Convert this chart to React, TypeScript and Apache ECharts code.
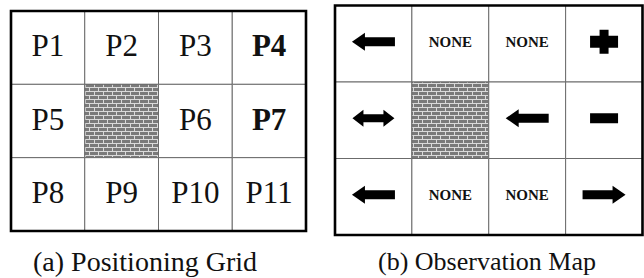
import React, { useEffect, useRef } from "react";
import * as echarts from "echarts";

const columns = ["C1", "C2", "C3", "C4"];
const rows = ["R1", "R2", "R3"];
const positionLabels = ["P1", "P2", "P3", "P4", "P5", "", "P6", "P7", "P8", "P9", "P10", "P11"];
const boldPositions = ["P4", "P7"];
const obstacleCells = [5];
const observations = ["left", "NONE", "NONE", "plus", "both", "", "left", "minus", "left", "NONE", "NONE", "right"];
const captions = ["(a) Positioning Grid", "(b) Observation Map"];

const SERIF = "Liberation Serif";

function makeBrick(): HTMLCanvasElement {
  const c = document.createElement("canvas");
  c.width = 9;
  c.height = 8;
  const g = c.getContext("2d")!;
  g.fillStyle = "#dadada";
  g.fillRect(0, 0, 9, 8);
  g.fillStyle = "#7a7a7a";
  g.fillRect(0, 0, 8, 3);
  g.fillRect(0, 4, 4, 3);
  g.fillRect(5, 4, 4, 3);
  return c;
}

function cellItems() {
  const items: number[][] = [];
  rows.forEach((_, r) => columns.forEach((__, c) => items.push([c, r, r * columns.length + c])));
  return items;
}

function arrowPoints(cx: number, cy: number, dir: number) {
  const L = 43, hl = 13, hh = 18, sh = 9;
  const pts = [
    [-L / 2, 0],
    [-L / 2 + hl, -hh / 2],
    [-L / 2 + hl, -sh / 2],
    [L / 2, -sh / 2],
    [L / 2, sh / 2],
    [-L / 2 + hl, sh / 2],
    [-L / 2 + hl, hh / 2],
  ];
  return pts.map((p) => [cx + dir * p[0], cy + p[1]]);
}

function bothPoints(cx: number, cy: number) {
  const L = 42, hl = 11, hh = 17, sh = 8;
  return [
    [cx - L / 2, cy],
    [cx - L / 2 + hl, cy - hh / 2],
    [cx - L / 2 + hl, cy - sh / 2],
    [cx + L / 2 - hl, cy - sh / 2],
    [cx + L / 2 - hl, cy - hh / 2],
    [cx + L / 2, cy],
    [cx + L / 2 - hl, cy + hh / 2],
    [cx + L / 2 - hl, cy + sh / 2],
    [cx - L / 2 + hl, cy + sh / 2],
    [cx - L / 2 + hl, cy + hh / 2],
  ];
}

export default function App() {
  const ref = useRef<HTMLDivElement>(null);
  useEffect(() => {
    if (!ref.current) return;
    const chart = echarts.init(ref.current, undefined, { renderer: "svg" });
    const brick = makeBrick();
    const pattern: any = { image: brick, repeat: "repeat", imageWidth: 9, imageHeight: 8 };

    const cellRect = (api: any) => {
      const c = api.coord([api.value(0), api.value(1)]);
      const s = api.size([1, 1]);
      return { c, s, x: c[0] - s[0] / 2, y: c[1] - s[1] / 2 };
    };

    const baseRect = (idx: number, x: number, y: number, s: number[]) => ({
      type: "rect",
      shape: { x, y, width: s[0], height: s[1] },
      style: {
        fill: obstacleCells.includes(idx) ? pattern : "#ffffff",
        stroke: "#6b6b6b",
        lineWidth: 1,
      },
    });

    const renderPositions = (params: any, api: any) => {
      const idx = api.value(2);
      const { c, s, x, y } = cellRect(api);
      const label = positionLabels[idx];
      const children: any[] = [baseRect(idx, x, y, s)];
      if (label) {
        children.push({
          type: "text",
          style: {
            text: label,
            x: c[0],
            y: c[1] - 2,
            align: "center",
            verticalAlign: "middle",
            fontSize: 31,
            fontFamily: SERIF,
            fontWeight: boldPositions.includes(label) ? "bold" : "normal",
            fill: "#111",
          },
        });
      }
      return { type: "group", children };
    };

    const renderObservations = (params: any, api: any) => {
      const idx = api.value(2);
      const { c, s, x, y } = cellRect(api);
      const obs = observations[idx];
      const children: any[] = [baseRect(idx, x, y, s)];
      const cx = c[0];
      const cy = c[1] - 2;
      const fill = "#000";
      if (obs === "NONE") {
        children.push({
          type: "text",
          style: {
            text: obs,
            x: cx,
            y: cy,
            align: "center",
            verticalAlign: "middle",
            fontSize: 15,
            fontFamily: SERIF,
            fontWeight: "bold",
            fill: "#111",
          },
        });
      } else if (obs === "left" || obs === "right") {
        children.push({
          type: "polygon",
          shape: { points: arrowPoints(cx, cy, obs === "left" ? 1 : -1) },
          style: { fill },
        });
      } else if (obs === "both") {
        children.push({ type: "polygon", shape: { points: bothPoints(cx, cy) }, style: { fill } });
      } else if (obs === "plus") {
        children.push({
          type: "rect",
          shape: { x: cx - 14, y: cy - 6, width: 28, height: 12 },
          style: { fill },
        });
        children.push({
          type: "rect",
          shape: { x: cx - 4.5, y: cy - 12, width: 9, height: 24 },
          style: { fill },
        });
      } else if (obs === "minus") {
        children.push({
          type: "rect",
          shape: { x: cx - 14, y: cy - 5, width: 28, height: 10 },
          style: { fill },
        });
      }
      return { type: "group", children };
    };

    const renderFrame = (params: any) => {
      const cs = params.coordSys;
      return {
        type: "rect",
        shape: { x: cs.x, y: cs.y, width: cs.width, height: cs.height },
        style: { fill: "transparent", stroke: "#000", lineWidth: 2.6 },
      };
    };

    const items = cellItems();

    chart.setOption({
      animation: false,
      backgroundColor: "#ffffff",
      grid: [
        { left: 11, top: 11, width: 295, height: 220 },
        { left: 335, top: 5.5, width: 307.5, height: 229.5 },
      ],
      xAxis: [0, 1].map((g) => ({ type: "category", data: columns, gridIndex: g, show: false })),
      yAxis: [0, 1].map((g) => ({ type: "category", data: rows, gridIndex: g, show: false, inverse: true })),
      series: [
        { type: "custom", xAxisIndex: 0, yAxisIndex: 0, data: items, renderItem: renderPositions, silent: true },
        { type: "custom", xAxisIndex: 1, yAxisIndex: 1, data: items, renderItem: renderObservations, silent: true },
        { type: "custom", xAxisIndex: 0, yAxisIndex: 0, data: [[0, 0]], renderItem: renderFrame, z: 10, silent: true },
        { type: "custom", xAxisIndex: 1, yAxisIndex: 1, data: [[0, 0]], renderItem: renderFrame, z: 10, silent: true },
      ],
      graphic: [
        {
          type: "text",
          x: 145,
          y: 261,
          style: { text: captions[0], align: "center", verticalAlign: "middle", fontSize: 28, fontFamily: SERIF, fill: "#111" },
        },
        {
          type: "text",
          x: 487,
          y: 261,
          style: { text: captions[1], align: "center", verticalAlign: "middle", fontSize: 26, fontFamily: SERIF, fill: "#111" },
        },
      ],
    });
    return () => chart.dispose();
  }, []);
  return (
    <div
      ref={ref}
      style={{ position: "fixed", left: 0, top: 0, width: 644, height: 278, background: "#fff" }}
    />
  );
}
